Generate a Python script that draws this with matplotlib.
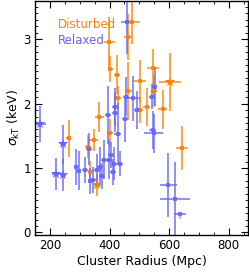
import matplotlib
matplotlib.use("Agg")
import matplotlib.pyplot as plt
import numpy as np

# Disturbed clusters
dist_r = [263, 327, 347, 365, 336, 358, 399, 403, 403, 425, 427, 461, 477, 463,
          503, 503, 525, 547, 548, 603, 579, 642]
dist_s = [1.46, 1.33, 1.44, 1.79, 0.94, 0.74, 2.95, 1.54, 2.54, 2.45, 2.08, 3.03,
          3.27, 2.19, 2.35, 1.90, 1.95, 2.55, 2.20, 2.34, 1.91, 1.31]
dist_rerr = [8, 10, 15, 15, 8, 10, 18, 10, 8, 10, 12, 13, 24, 12, 20, 10, 12, 20,
             10, 38, 15, 20]
dist_serr = [0.29, 0.18, 0.17, 0.23, 0.17, 0.17, 0.40, 0.22, 0.20, 0.30, 0.20,
             0.36, 0.35, 0.45, 0.33, 0.20, 0.30, 0.30, 0.25, 0.45, 0.30, 0.34]
dist_star = [5, 19]

# Relaxed clusters
rel_r = [167, 219, 245, 245, 289, 297, 317, 330, 336, 345, 358, 367, 375, 380,
         397, 406, 412, 414, 434, 394, 417, 417, 427, 453, 456, 479, 492, 458,
         545, 551, 548, 543, 597, 620]
rel_s = [1.68, 0.91, 1.37, 0.89, 1.02, 0.96, 0.97, 1.29, 0.80, 0.81, 0.97, 1.02,
         0.88, 1.13, 1.13, 1.20, 0.94, 1.07, 1.07, 1.83, 1.86, 1.95, 1.53, 1.76,
         2.11, 2.08, 1.90, 3.27, 1.59, 2.26, 1.54, 2.11, 0.74, 0.52]
rel_rerr = [18, 12, 8, 8, 8, 8, 10, 10, 8, 8, 12, 10, 10, 10, 10, 10, 10, 10, 10,
            10, 10, 10, 12, 10, 10, 20, 10, 18, 12, 10, 32, 10, 28, 50]
rel_serr = [0.28, 0.25, 0.30, 0.25, 0.28, 0.30, 0.20, 0.25, 0.20, 0.20, 0.25,
            0.30, 0.20, 0.30, 0.30, 0.20, 0.20, 0.25, 0.20, 0.45, 0.30, 0.30,
            0.48, 0.35, 0.30, 0.35, 0.30, 0.50, 0.30, 0.30, 0.30, 0.20, 0.50, 0.58]
rel_star = [0, 1, 2, 3]

# upper limit
lim_r, lim_s, lim_rerr = 637, 0.28, 20

orange = "#ff8000"
blue = "#6666ff"

fig = plt.figure(figsize=(2.49, 2.73), dpi=100)
ax = fig.add_axes([0.141, 0.139, 0.855, 0.859])

ax.errorbar(dist_r, dist_s, xerr=dist_rerr, yerr=dist_serr, fmt="s", ms=2.5,
            color=orange, ecolor=orange, elinewidth=1.2, capsize=2, capthick=1,
            alpha=0.85, mew=0)
ax.errorbar(rel_r, rel_s, xerr=rel_rerr, yerr=rel_serr, fmt="s", ms=2.5,
            color=blue, ecolor=blue, elinewidth=1.2, capsize=2, capthick=1,
            alpha=0.85, mew=0)
ax.plot([dist_r[i] for i in dist_star], [dist_s[i] for i in dist_star], "*",
        color=orange, ms=7, mew=0)
ax.plot([rel_r[i] for i in rel_star], [rel_s[i] for i in rel_star], "*",
        color=blue, ms=7, mew=0)
ax.errorbar([lim_r], [lim_s], xerr=[lim_rerr], fmt="s", ms=2.5, color=blue,
            ecolor=blue, elinewidth=1.2, capsize=2, alpha=0.85, mew=0)
ax.annotate("", xy=(lim_r, lim_s - 0.12), xytext=(lim_r, lim_s),
            arrowprops=dict(arrowstyle="->", color=blue, lw=0.6, alpha=0.6))

ax.set_xlim(150, 865)
ax.set_ylim(-0.04, 3.6)
ax.set_xticks([200, 400, 600, 800])
ax.set_yticks([0, 1, 2, 3])
ax.set_xticks(np.arange(150, 870, 50), minor=True)
ax.set_yticks(np.arange(0, 3.6, 0.1), minor=True)
ax.tick_params(which="both", direction="in", top=True, right=True,
               labelsize=8.5, pad=3)
ax.tick_params(which="major", length=5, width=0.8)
ax.tick_params(which="minor", length=2.5, width=0.6)
for s in ax.spines.values():
    s.set_linewidth(1.0)

ax.set_xlabel("Cluster Radius (Mpc)", fontsize=9, labelpad=2)
ax.set_ylabel(r"$\sigma_{\rm kT}$ (keV)", fontsize=9, labelpad=1)

ax.text(0.105, 0.885, "Disturbed", color=orange, fontsize=8.5,
        transform=ax.transAxes)
ax.text(0.105, 0.815, "Relaxed", color=blue, fontsize=8.5,
        transform=ax.transAxes)

fig.savefig("out.png", dpi=100)
